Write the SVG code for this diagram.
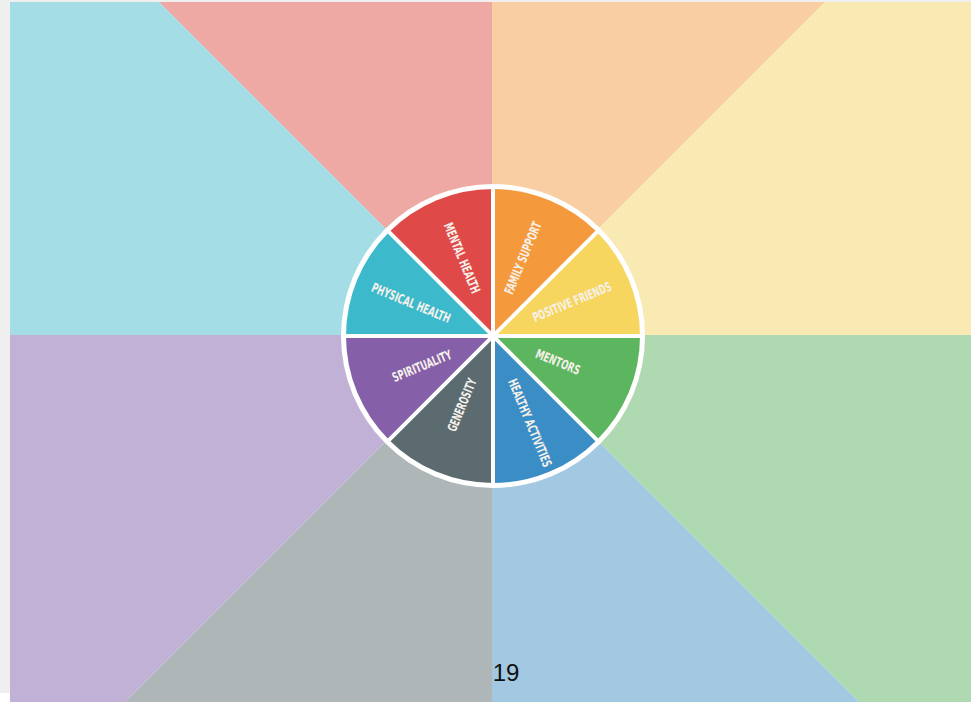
<svg xmlns="http://www.w3.org/2000/svg" width="971" height="702" viewBox="0 0 971 702">
<style>
.lbl{font-family:"DejaVu Sans Condensed","DejaVu Sans","Liberation Sans",sans-serif;font-weight:bold;font-size:13px;fill:#f6f1ea;text-anchor:middle;dominant-baseline:central}
.div{stroke:#ffffff;stroke-width:4}
</style>
<rect x="0" y="0" width="971" height="702" fill="#efefef"/>
<rect x="0" y="693" width="10" height="9" fill="#ffffff"/>
<g id="background">
<polygon points="492,335 492,2 159,2" fill="#eea9a5"/>
<polygon points="492,335 159,2 10,2 10,335" fill="#a4dde5"/>
<polygon points="492,335 492,2 825,2" fill="#f8cea2"/>
<polygon points="492,335 825,2 971,2 971,335" fill="#f9eab4"/>
<polygon points="492,335 971,335 971,702 859,702" fill="#afd9b0"/>
<polygon points="492,335 859,702 492,702" fill="#a2c8e2"/>
<polygon points="492,335 492,702 125,702" fill="#aeb6b8"/>
<polygon points="492,335 125,702 10,702 10,335" fill="#c2b1d6"/>
</g>
<circle cx="493" cy="336" r="152" fill="#ffffff"/>
<g id="family-support">
<path d="M493,336 L493,189 A147,147 0 0 1 596.94,232.06 Z" fill="#f59a3c"/>
<text class="lbl" transform="translate(523,258) rotate(-67.5)" textLength="77" lengthAdjust="spacingAndGlyphs">FAMILY SUPPORT</text>
</g>
<g id="positive-friends">
<path d="M493,336 L596.94,232.06 A147,147 0 0 1 640,336 Z" fill="#f6d65f"/>
<text class="lbl" transform="translate(572,302) rotate(-22.5)" textLength="84" lengthAdjust="spacingAndGlyphs">POSITIVE FRIENDS</text>
</g>
<g id="mentors">
<path d="M493,336 L640,336 A147,147 0 0 1 596.94,439.94 Z" fill="#5cb65f"/>
<text class="lbl" transform="translate(558,362) rotate(22.5)" textLength="47" lengthAdjust="spacingAndGlyphs">MENTORS</text>
</g>
<g id="healthy-activities">
<path d="M493,336 L596.94,439.94 A147,147 0 0 1 493,483 Z" fill="#3a8dc5"/>
<text class="lbl" transform="translate(530,423) rotate(67.5)" textLength="94" lengthAdjust="spacingAndGlyphs">HEALTHY ACTIVITIES</text>
</g>
<g id="generosity">
<path d="M493,336 L493,483 A147,147 0 0 1 389.06,439.94 Z" fill="#5c6b70"/>
<text class="lbl" transform="translate(462,405) rotate(-67.5)" textLength="56" lengthAdjust="spacingAndGlyphs">GENEROSITY</text>
</g>
<g id="spirituality">
<path d="M493,336 L389.06,439.94 A147,147 0 0 1 346,336 Z" fill="#8560a8"/>
<text class="lbl" transform="translate(422,366) rotate(-22.5)" textLength="63" lengthAdjust="spacingAndGlyphs">SPIRITUALITY</text>
</g>
<g id="physical-health">
<path d="M493,336 L346,336 A147,147 0 0 1 389.06,232.06 Z" fill="#3db9cc"/>
<text class="lbl" transform="translate(411,303) rotate(22.5)" textLength="84" lengthAdjust="spacingAndGlyphs">PHYSICAL HEALTH</text>
</g>
<g id="mental-health">
<path d="M493,336 L389.06,232.06 A147,147 0 0 1 493,189 Z" fill="#df4a48"/>
<text class="lbl" transform="translate(462,258) rotate(67.5)" textLength="75" lengthAdjust="spacingAndGlyphs">MENTAL HEALTH</text>
</g>
<g id="dividers">
<line class="div" x1="493" y1="186" x2="493" y2="486"/>
<line class="div" x1="343" y1="336" x2="643" y2="336"/>
<line class="div" x1="386.9" y1="229.9" x2="599.1" y2="442.1"/>
<line class="div" x1="386.9" y1="442.1" x2="599.1" y2="229.9"/>
</g>
<text x="506" y="681" font-family="Liberation Sans, Arial, sans-serif" font-size="24" fill="#111111" text-anchor="middle">19</text>
</svg>
